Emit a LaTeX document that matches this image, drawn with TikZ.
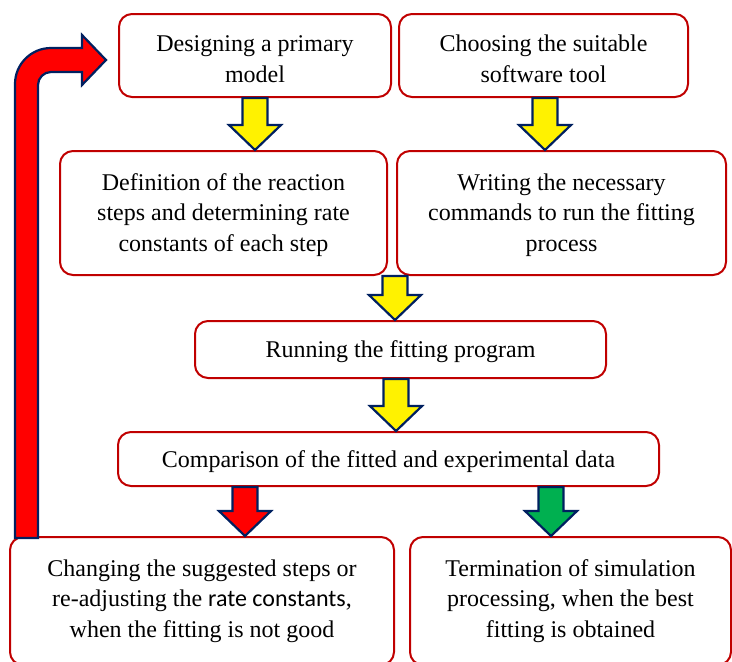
\documentclass[tikz,border=0pt]{standalone}
\usepackage{fontspec}
\setmainfont{Liberation Serif}
\newfontfamily\carl{Carlito}
\definecolor{boxred}{HTML}{C00000}
\definecolor{navy}{HTML}{002060}
\definecolor{arrgreen}{HTML}{00B050}
\newcommand\blockarr[4]{%
  \draw[barrow,fill=#4] ({#1-12.5},#2) -- ({#1+12.5},#2) -- ({#1+12.5},{#3-25}) -- ({#1+26},{#3-25}) -- (#1,#3) -- ({#1-26},{#3-25}) -- ({#1-12.5},{#3-25}) -- cycle;}
\newcommand\lowr[1]{\rule{0pt}{#1}}
\begin{document}
\begin{tikzpicture}[x=1pt,y=-1pt,
  box/.style={draw=boxred,line width=2pt,rounded corners=13pt,fill=white,
    inner sep=0pt,align=center,font=\fontsize{24}{30.5}\selectfont},
  barrow/.style={draw=navy,line width=2.2pt,line join=miter}]
\useasboundingbox (0,0) rectangle (732,662);
\node[box,minimum width=272pt,minimum height=83pt] (b1) at (255,55.5) {\lowr{23pt}Designing a primary\\model};
\node[box,minimum width=289pt,minimum height=83pt] (b2) at (543.5,55.5) {\lowr{23pt}Choosing the suitable\\software tool};
\node[box,minimum width=327pt,minimum height=124pt] (b3) at (223.5,213) {\lowr{21pt}Definition of the reaction\\steps and determining rate\\constants of each step};
\node[box,minimum width=329pt,minimum height=124pt] (b4) at (561.5,213) {\lowr{21pt}Writing the necessary\\commands to run the fitting\\process};
\node[box,minimum width=411pt,minimum height=57pt] (b5) at (400.5,349.5) {\lowr{22pt}Running the fitting program};
\node[box,minimum width=541pt,minimum height=54pt] (b6) at (388.5,459) {\lowr{23pt}Comparison of the fitted and experimental data};
\node[box,minimum width=384pt,minimum height=128pt] (b7) at (202,601) {Changing the suggested steps or\\re-adjusting the {\carl rate constants},\\when the fitting is not good};
\node[box,minimum width=321pt,minimum height=128pt] (b8) at (570.5,601) {Termination of simulation\\processing, when the best\\fitting is obtained};
\blockarr{255}{98}{150}{yellow}
\blockarr{545}{98}{150}{yellow}
\blockarr{395}{276}{320}{yellow}
\blockarr{396}{379}{431}{yellow}
\blockarr{245}{487}{536}{red}
\blockarr{551}{487}{536}{arrgreen}
\draw[barrow,fill=red] (15,538) [rounded corners=36pt] -- (15,48) [sharp corners] -- (82,48) -- (82,35) -- (106,60) -- (82,85) -- (82,72) [rounded corners=13pt] -- (38,72) [sharp corners] -- (38,538) -- cycle;
\end{tikzpicture}
\end{document}
